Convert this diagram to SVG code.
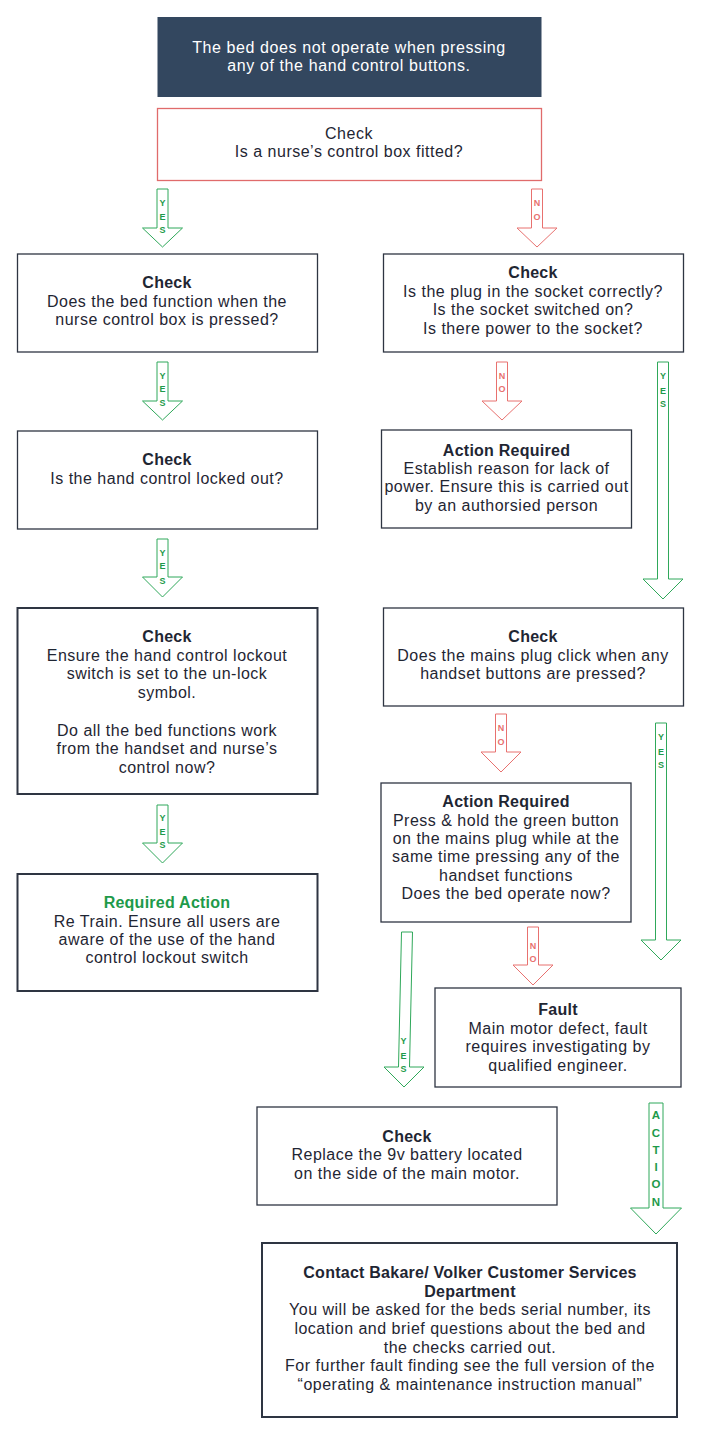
<svg xmlns="http://www.w3.org/2000/svg" width="701" height="1432" viewBox="0 0 701 1432">
<style>
.bg{fill:#ffffff}
.box{fill:#ffffff;stroke:#2e3542;stroke-width:1.3}
.thick{stroke-width:2}
.t{font-family:"Liberation Sans",Arial,sans-serif;font-size:16px;letter-spacing:0.5px;fill:#1f2633;text-anchor:middle}
.b{font-weight:bold;letter-spacing:0.25px}
.w{fill:#ffffff;letter-spacing:0.6px}
.g{fill:#1e9a4a}
.ya{fill:#ffffff;stroke:#2fa85a;stroke-width:1}
.na{fill:#ffffff;stroke:#e8716f;stroke-width:1}
.yl{font-family:"Liberation Sans",Arial,sans-serif;font-size:9px;font-weight:bold;fill:#1e9a4a;text-anchor:middle}
.nl{font-family:"Liberation Sans",Arial,sans-serif;font-size:9px;font-weight:bold;fill:#e8716f;text-anchor:middle}
.al{font-family:"Liberation Sans",Arial,sans-serif;font-size:11.5px;font-weight:bold;fill:#1e9a4a;text-anchor:middle}
</style>
<rect class="bg" x="0" y="0" width="701" height="1432"/>

<g id="connectors">
  <g id="a1"><polygon class="ya" points="157,189 168,189 168,228 182.5,228 162.5,247 142.5,228 157,228"/>
    <text class="yl" x="162.5" y="205.5">Y</text><text class="yl" x="162.5" y="219.5">E</text><text class="yl" x="162.5" y="232.5">S</text></g>
  <g id="a2"><polygon class="na" points="531.5,189 542.5,189 542.5,228 557,228 537,247 517,228 531.5,228"/>
    <text class="nl" x="537" y="205.5">N</text><text class="nl" x="537" y="219.5">O</text></g>
  <g id="a3"><polygon class="ya" points="157,362 168,362 168,401 182.5,401 162.5,420 142.5,401 157,401"/>
    <text class="yl" x="162.5" y="378.5">Y</text><text class="yl" x="162.5" y="391.5">E</text><text class="yl" x="162.5" y="405.5">S</text></g>
  <g id="a4"><polygon class="na" points="496.5,362 507.5,362 507.5,401 522,401 502,420 482,401 496.5,401"/>
    <text class="nl" x="502" y="378.5">N</text><text class="nl" x="502" y="391.5">O</text></g>
  <g id="a5"><polygon class="ya" points="657.5,362 668.5,362 668.5,579 683,579 663,599 643,579 657.5,579"/>
    <text class="yl" x="663" y="378.5">Y</text><text class="yl" x="663" y="393.5">E</text><text class="yl" x="663" y="406.5">S</text></g>
  <g id="a6"><polygon class="ya" points="157,539 168,539 168,577 182.5,577 162.5,597 142.5,577 157,577"/>
    <text class="yl" x="162.5" y="555.5">Y</text><text class="yl" x="162.5" y="568.5">E</text><text class="yl" x="162.5" y="583.5">S</text></g>
  <g id="a7"><polygon class="ya" points="157,805 168,805 168,843 182.5,843 162.5,863 142.5,843 157,843"/>
    <text class="yl" x="162.5" y="820.5">Y</text><text class="yl" x="162.5" y="834.5">E</text><text class="yl" x="162.5" y="847.5">S</text></g>
  <g id="a8"><polygon class="na" points="495.5,714 506.5,714 506.5,752 521,752 501,772 481,752 495.5,752"/>
    <text class="nl" x="501" y="730.5">N</text><text class="nl" x="501" y="744.5">O</text></g>
  <g id="a9"><polygon class="ya" points="655.5,723 666.5,723 666.5,940 681,940 661,960 641,940 655.5,940"/>
    <text class="yl" x="661" y="739.5">Y</text><text class="yl" x="661" y="754.5">E</text><text class="yl" x="661" y="767.5">S</text></g>
  <g id="a10"><polygon class="ya" points="401.5,932 412.5,932 409.5,1067 424,1067 404,1087 384,1067 398.5,1067"/>
    <text class="yl" x="403.5" y="1043.5">Y</text><text class="yl" x="403.5" y="1058.5">E</text><text class="yl" x="403.5" y="1071.5">S</text></g>
  <g id="a11"><polygon class="na" points="527.5,927 538.5,927 538.5,965 553,965 533,985 513,965 527.5,965"/>
    <text class="nl" x="533" y="948.5">N</text><text class="nl" x="533" y="961.5">O</text></g>
  <g id="a12"><polygon class="ya" points="649,1103 663,1103 663,1208 681.5,1208 656,1234 630.5,1208 649,1208"/>
    <text class="al" x="656" y="1118.5">A</text><text class="al" x="656" y="1136.5">C</text><text class="al" x="656" y="1153.5">T</text><text class="al" x="656" y="1170.5">I</text><text class="al" x="656" y="1187.5">O</text><text class="al" x="656" y="1205.5">N</text></g>
</g>

<g id="n-start">
  <rect x="157.5" y="17" width="384" height="80" fill="#33475f"/>
  <text class="t w" x="349" y="53">The bed does not operate when pressing</text>
  <text class="t w" x="349" y="71">any of the hand control buttons.</text>
</g>
<g id="n-nursebox">
  <rect x="157.5" y="108.5" width="384" height="72" fill="#ffffff" stroke="#e06b6b" stroke-width="1.3"/>
  <text class="t" x="349" y="139">Check</text>
  <text class="t" x="349" y="157">Is a nurse’s control box fitted?</text>
</g>
<g id="n-nursefn">
  <rect class="box" x="17.5" y="254" width="300" height="98"/>
  <text class="t b" x="167" y="288">Check</text>
  <text class="t" x="167" y="307">Does the bed function when the</text>
  <text class="t" x="167" y="325">nurse control box is pressed?</text>
</g>
<g id="n-plug">
  <rect class="box" x="383.5" y="254" width="300" height="98"/>
  <text class="t b" x="533" y="278">Check</text>
  <text class="t" x="533" y="297">Is the plug in the socket correctly?</text>
  <text class="t" x="533" y="315">Is the socket switched on?</text>
  <text class="t" x="533" y="334">Is there power to the socket?</text>
</g>
<g id="n-locked">
  <rect class="box" x="17.5" y="431" width="300" height="98"/>
  <text class="t b" x="167" y="465">Check</text>
  <text class="t" x="167" y="484">Is the hand control locked out?</text>
</g>
<g id="n-power">
  <rect class="box" x="381.5" y="430" width="250" height="98"/>
  <text class="t b" x="506.5" y="456">Action Required</text>
  <text class="t" x="506.5" y="474">Establish reason for lack of</text>
  <text class="t" x="506.5" y="492">power. Ensure this is carried out</text>
  <text class="t" x="506.5" y="511">by an authorsied person</text>
</g>
<g id="n-lockout">
  <rect class="box thick" x="17.5" y="608" width="300" height="186"/>
  <text class="t b" x="167" y="642">Check</text>
  <text class="t" x="167" y="661">Ensure the hand control lockout</text>
  <text class="t" x="167" y="679">switch is set to the un-lock</text>
  <text class="t" x="167" y="698">symbol.</text>
  <text class="t" x="167" y="736">Do all the bed functions work</text>
  <text class="t" x="167" y="754">from the handset and nurse’s</text>
  <text class="t" x="167" y="773">control now?</text>
</g>
<g id="n-click">
  <rect class="box" x="383.5" y="608" width="300" height="98"/>
  <text class="t b" x="533" y="642">Check</text>
  <text class="t" x="533" y="661">Does the mains plug click when any</text>
  <text class="t" x="533" y="679">handset buttons are pressed?</text>
</g>
<g id="n-retrain">
  <rect class="box thick" x="17.5" y="874" width="300" height="117"/>
  <text class="t b g" x="167" y="908">Required Action</text>
  <text class="t" x="167" y="927">Re Train. Ensure all users are</text>
  <text class="t" x="167" y="945">aware of the use of the hand</text>
  <text class="t" x="167" y="963">control lockout switch</text>
</g>
<g id="n-green">
  <rect class="box" x="381" y="783" width="250" height="139"/>
  <text class="t b" x="506" y="807">Action Required</text>
  <text class="t" x="506" y="826">Press &amp; hold the green button</text>
  <text class="t" x="506" y="844">on the mains plug while at the</text>
  <text class="t" x="506" y="862">same time pressing any of the</text>
  <text class="t" x="506" y="881">handset functions</text>
  <text class="t" x="506" y="899">Does the bed operate now?</text>
</g>
<g id="n-fault">
  <rect class="box" x="435" y="988" width="246" height="99"/>
  <text class="t b" x="558" y="1015">Fault</text>
  <text class="t" x="558" y="1034">Main motor defect, fault</text>
  <text class="t" x="558" y="1052">requires investigating by</text>
  <text class="t" x="558" y="1071">qualified engineer.</text>
</g>
<g id="n-battery">
  <rect class="box" x="257" y="1107" width="300" height="98"/>
  <text class="t b" x="407" y="1142">Check</text>
  <text class="t" x="407" y="1160">Replace the 9v battery located</text>
  <text class="t" x="407" y="1179">on the side of the main motor.</text>
</g>
<g id="n-contact">
  <rect class="box thick" x="262" y="1243" width="415" height="174"/>
  <text class="t b" x="470" y="1278">Contact Bakare/ Volker Customer Services</text>
  <text class="t b" x="470" y="1297">Department</text>
  <text class="t" x="470" y="1315">You will be asked for the beds serial number, its</text>
  <text class="t" x="470" y="1334">location and brief questions about the bed and</text>
  <text class="t" x="470" y="1353">the checks carried out.</text>
  <text class="t" x="470" y="1371">For further fault finding see the full version of the</text>
  <text class="t" x="470" y="1390">“operating &amp; maintenance instruction manual”</text>
</g>
</svg>
